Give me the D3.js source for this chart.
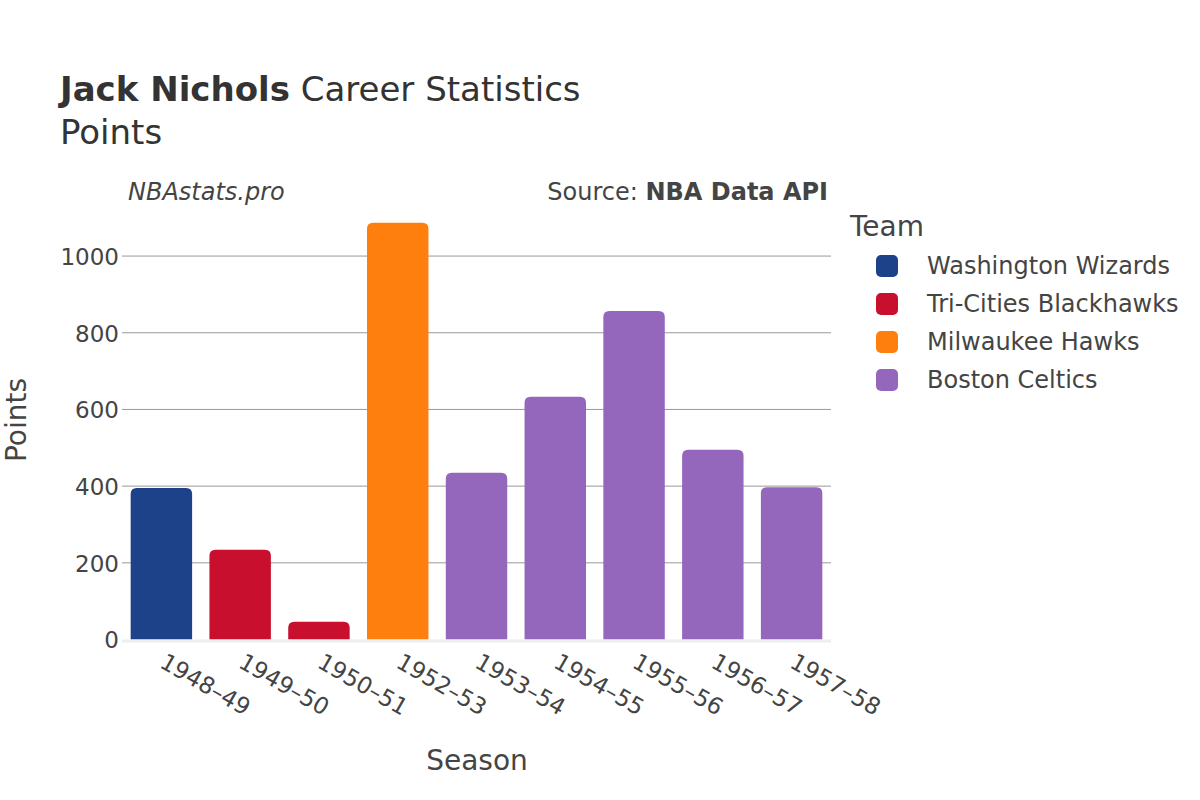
<!DOCTYPE html>
<html><head><meta charset="utf-8">
<script src="https://cdn.jsdelivr.net/npm/d3@7"></script>
<style>body{margin:0;background:#fff;} svg{display:block;font-family:"DejaVu Sans",sans-serif;}</style>
</head><body>
<svg id="chart" width="1200" height="800"></svg>
<script>
const seasons = ["1948–49","1949–50","1950–51","1952–53","1953–54","1954–55","1955–56","1956–57","1957–58"];
const points = [395, 234, 46, 1087, 435, 633, 857, 495, 397];
const teamOfSeason = ["Washington Wizards","Tri-Cities Blackhawks","Tri-Cities Blackhawks","Milwaukee Hawks","Boston Celtics","Boston Celtics","Boston Celtics","Boston Celtics","Boston Celtics"];
const teams = ["Washington Wizards","Tri-Cities Blackhawks","Milwaukee Hawks","Boston Celtics"];
const teamColors = ["#1d428a","#c8102e","#ff7f0e","#9467bd"];
const yTicks = [0,200,400,600,800,1000];

const svg = d3.select("#chart");
const m = {left:122, right:831, top:202, bottom:639.5};
const x = d3.scaleBand().domain(seasons).range([m.left, m.right]).paddingInner(0.22).paddingOuter(0.11);
const y = d3.scaleLinear().domain([0, 1141]).range([m.bottom, m.top]);
const color = d3.scaleOrdinal().domain(teams).range(teamColors);
const txt = "#444";

// grid
svg.append("g").selectAll("line").data(yTicks.filter(d=>d>0)).join("line")
  .attr("x1", m.left).attr("x2", m.right)
  .attr("y1", d=>y(d)).attr("y2", d=>y(d))
  .attr("stroke", "#999").attr("stroke-width", 1);

// bars
const data = seasons.map((s,i)=>({s, v:points[i], t:teamOfSeason[i]}));
svg.append("g").selectAll("path").data(data).join("path")
  .attr("d", d=>{
    const x0 = x(d.s), w = x.bandwidth(), y0 = y(d.v), h = y(0)-y(d.v), r = Math.min(6, h/2);
    return `M${x0},${y0+h} V${y0+r} Q${x0},${y0} ${x0+r},${y0} H${x0+w-r} Q${x0+w},${y0} ${x0+w},${y0+r} V${y0+h} Z`;
  })
  .attr("fill", d=>color(d.t));

// zero line
svg.append("line").attr("x1", m.left).attr("x2", m.right)
  .attr("y1", y(0)+1.5).attr("y2", y(0)+1.5).attr("stroke", "#eee").attr("stroke-width", 3);

// y axis labels
const yAxis = d3.axisLeft(y).tickValues(yTicks).tickSize(0).tickPadding(0).tickFormat(d3.format("d"));
const yg = svg.append("g").attr("transform", `translate(${m.left-3},0)`).call(yAxis);
yg.select(".domain").remove();
yg.selectAll("text").attr("font-size", 23).attr("fill", txt).attr("font-family", "DejaVu Sans").attr("dy", "0.36em");

// x axis labels
const xAxis = d3.axisBottom(x).tickSize(0).tickPadding(0);
const xg = svg.append("g").attr("transform", `translate(0,${m.bottom})`).call(xAxis);
xg.select(".domain").remove();
xg.selectAll("text").attr("font-size", 23).attr("fill", txt).attr("font-family", "DejaVu Sans")
  .attr("text-anchor", "start").attr("dy", 0).attr("y", 0)
  .attr("transform", "translate(-3,27) rotate(30)");

// titles
const t = svg.append("text").attr("x", 60).attr("y", 101).attr("font-size", 34).attr("fill", "#333");
t.append("tspan").attr("font-weight", "bold").text("Jack Nichols");
t.append("tspan").text(" Career Statistics");
svg.append("text").attr("x", 60).attr("y", 144).attr("font-size", 34).attr("fill", "#333").text("Points");

svg.append("text").attr("x", 128).attr("y", 200).attr("font-size", 24).attr("font-style", "italic").attr("fill", txt).text("NBAstats.pro");
const src = svg.append("text").attr("x", 828).attr("y", 200).attr("font-size", 24).attr("text-anchor", "end").attr("fill", txt);
src.append("tspan").text("Source: ");
src.append("tspan").attr("font-weight", "bold").text("NBA Data API");

svg.append("text").attr("x", 477).attr("y", 770).attr("font-size", 28).attr("text-anchor", "middle").attr("fill", txt).text("Season");
svg.append("text").attr("transform", "translate(26,420) rotate(-90)").attr("font-size", 28).attr("text-anchor", "middle").attr("fill", txt).text("Points");

// legend
svg.append("text").attr("x", 850).attr("y", 236).attr("font-size", 28).attr("fill", txt).text("Team");
const lg = svg.append("g").selectAll("g").data(teams).join("g")
  .attr("transform", (d,i)=>`translate(876,${266 + i*38})`);
lg.append("rect").attr("x", 0).attr("y", -11).attr("width", 22).attr("height", 22).attr("rx", 5)
  .attr("fill", d=>color(d));
lg.append("text").attr("x", 51).attr("y", 0).attr("dy", "0.35em").attr("font-size", 24).attr("fill", txt).text(d=>d);
</script>
</body></html>
